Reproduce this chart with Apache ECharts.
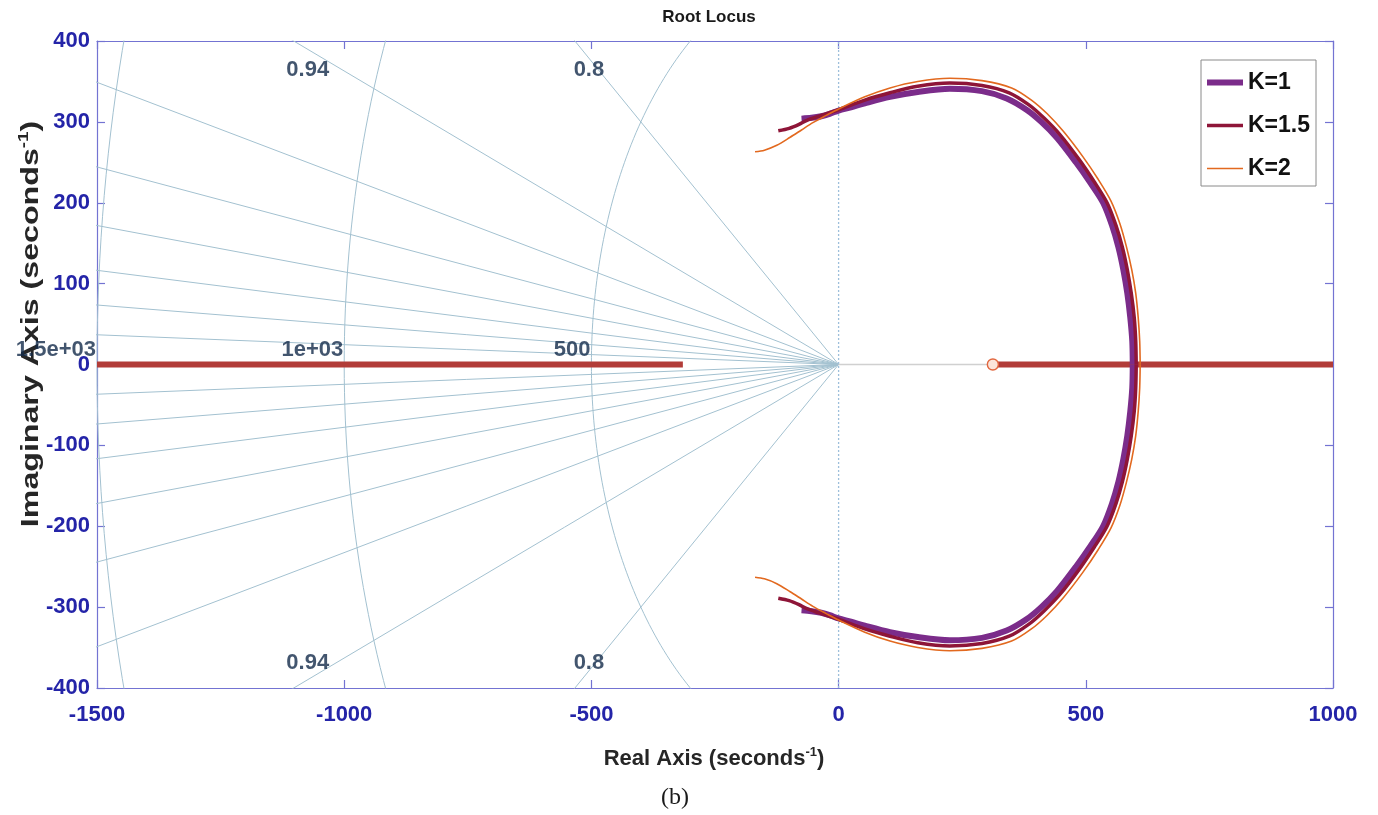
<!DOCTYPE html>
<html>
<head>
<meta charset="utf-8">
<script src="https://cdn.jsdelivr.net/npm/echarts@6/dist/echarts.min.js"></script>
<style>
  html, body { margin: 0; padding: 0; background: #ffffff; }
  #chart { width: 1378px; height: 815px; }
</style>
</head>
<body>
<div id="chart"></div>
<script>
// Axis ranges and tick labels
const realRange = [-1500, 1000];
const imagRange = [-400, 400];
const realTickStep = 500;
const imagTickStep = 100;

// s-plane grid: damping ratio rays and natural frequency arcs
const dampingRatios = [0.8, 0.94, 0.974, 0.987, 0.9935, 0.997, 0.9988, 0.9997];
const labelledDamping = [0.94, 0.8];
const naturalFreqs = [500, 1000, 1500];
const naturalFreqLabels = ['500', '1e+03', '1.5e+03'];

// Upper (positive imaginary) branches of the complex root locus, [real, imag]
const locusK1 = [
  [-75, 304], [-55, 305], [-35, 307], [-18, 310], [0, 314], [25, 318], [53, 323],
  [104, 331], [160, 337], [225, 341], [290, 338], [340, 329], [380, 315], [410, 300],
  [442, 280], [480, 250], [510, 224], [535, 200], [553, 172], [566, 145], [576, 117],
  [584, 88], [590, 58], [594, 29], [595, 0]
];
const locusK15 = [
  [-122, 289], [-100, 292], [-80, 297], [-64, 302], [-40, 307], [-20, 311], [0, 315],
  [53, 327], [104, 336], [160, 344], [225, 348], [290, 345], [345, 336], [385, 321],
  [415, 305], [448, 284], [487, 253], [517, 226], [543, 200], [561, 172], [574, 145],
  [584, 117], [592, 88], [598, 58], [601, 29], [602, 0]
];
const locusK2 = [
  [-169, 263], [-150, 265], [-125, 271], [-98, 281], [-75, 290], [-52, 299], [-25, 308],
  [0, 316], [53, 331], [104, 342], [160, 350], [225, 354], [290, 351], [350, 342],
  [390, 327], [422, 310], [455, 288], [494, 257], [525, 229], [551, 202], [569, 174],
  [582, 146], [593, 117], [601, 88], [606, 58], [609, 29], [610, 0]
];

// Real-axis portions of the locus and the open-loop zero
const realLocusLeft = [[-1500, 0], [-315, 0]];
const realLocusRight = [[316, 0], [1000, 0]];
const originToZero = [[0, 0], [312, 0]];
const zeroLocation = [[312, 0]];

const seriesNames = ['K=1', 'K=1.5', 'K=2'];
const seriesColors = ['#7B2C8A', '#8E1538', '#E2691F'];
const seriesWidths = [6, 3.5, 1.6];
const seriesData = [locusK1, locusK15, locusK2];

// complex roots come in conjugate pairs
const conjugate = pts => pts.map(p => [p[0], -p[1]]).reverse();

const gridColor = '#A3C1D0';
const frameColor = '#7373D2';
const tickColor = '#2424A8';
const gridLabelColor = '#132B4A';
const sansFont = 'Liberation Sans, Arial, sans-serif';

const series = [];

// damping-ratio rays (clipped by the plot area)
dampingRatios.forEach(z => {
  const r = 4000, s = Math.sqrt(1 - z * z);
  series.push({
    type: 'line', silent: true, symbol: 'none', z: 1,
    lineStyle: { color: gridColor, width: 1 },
    data: [[-r * z, r * s], [0, 0], [-r * z, -r * s]]
  });
});

// natural-frequency arcs in the left half plane
naturalFreqs.forEach(wn => {
  const pts = [];
  for (let a = 90; a <= 270; a += 1) {
    const t = a * Math.PI / 180;
    pts.push([wn * Math.cos(t), wn * Math.sin(t)]);
  }
  series.push({
    type: 'line', silent: true, symbol: 'none', z: 1,
    lineStyle: { color: gridColor, width: 1 },
    data: pts
  });
});

// imaginary axis
series.push({
  type: 'line', silent: true, symbol: 'none', z: 1,
  lineStyle: { color: '#9DBFDB', width: 1.3, type: [2, 2] },
  data: [[0, imagRange[0]], [0, imagRange[1]]]
});

// damping labels near the top and bottom edges
const dampLabelPts = [];
labelledDamping.forEach(z => {
  const s = Math.sqrt(1 - z * z);
  const xEdge = -imagRange[1] * z / s;
  dampLabelPts.push({ value: [xEdge, imagRange[1]], name: String(z), label: { offset: [14, 29] } });
  dampLabelPts.push({ value: [xEdge, imagRange[0]], name: String(z), label: { offset: [14, -25] } });
});
series.push({
  type: 'scatter', silent: true, symbolSize: 0, clip: false, z: 3,
  data: dampLabelPts,
  label: {
    show: true, position: 'inside', formatter: p => p.name,
    fontSize: 22, fontWeight: 'bold', color: gridLabelColor, fontFamily: sansFont
  }
});

// natural-frequency labels on the negative real axis
series.push({
  type: 'scatter', silent: true, symbolSize: 0, clip: false, z: 3,
  data: naturalFreqs.map((wn, i) => ({ value: [-wn, 0], name: naturalFreqLabels[i] })),
  label: {
    show: true, position: 'left', distance: 1, offset: [0, -15], formatter: p => p.name,
    fontSize: 22, fontWeight: 'bold', color: gridLabelColor, fontFamily: sansFont
  }
});

// thin segment from origin to the zero
series.push({
  type: 'line', silent: true, symbol: 'none', z: 2,
  lineStyle: { color: '#D0D0D0', width: 1.5 },
  data: originToZero
});

// real-axis locus
[realLocusLeft, realLocusRight].forEach(seg => {
  series.push({
    type: 'line', silent: true, symbol: 'none', z: 4,
    lineStyle: { color: '#B23C38', width: 6 },
    data: seg
  });
});

// complex branches, upper and lower
seriesNames.forEach((name, i) => {
  [seriesData[i], conjugate(seriesData[i])].forEach(pts => {
    series.push({
      name, type: 'line', symbol: 'none', z: 5 + i, smooth: 0.3,
      itemStyle: { color: seriesColors[i] },
      lineStyle: { color: seriesColors[i], width: seriesWidths[i] },
      data: pts
    });
  });
});

// open-loop zero marker
series.push({
  type: 'scatter', silent: true, symbol: 'circle', symbolSize: 11, z: 9,
  itemStyle: { color: '#FBE4DA', borderColor: '#E2673F', borderWidth: 1.4, opacity: 1 },
  data: zeroLocation
});

// legend swatches: a band of the series' line width centred in a 36x14 box
const legendIconW = 36, legendIconH = 14;
const bandIcon = w => {
  const y0 = (legendIconH - w) / 2, y1 = y0 + w;
  return 'path://M0,0L' + legendIconW + ',0L' + legendIconW + ',0Z' +
    'M0,' + y0 + 'H' + legendIconW + 'V' + y1 + 'H0Z' +
    'M0,' + legendIconH + 'L' + legendIconW + ',' + legendIconH + 'L' + legendIconW + ',' + legendIconH + 'Z';
};

const axisCommon = {
  type: 'value',
  axisLine: { show: true, onZero: false, lineStyle: { color: frameColor, width: 1.2 } },
  axisTick: { show: true, inside: true, length: 8, lineStyle: { color: frameColor, width: 1.2 } },
  splitLine: { show: false }
};
const tickLabel = {
  fontSize: 22, fontWeight: 'bold', color: tickColor, fontFamily: sansFont,
  formatter: v => String(v)
};
const richAxisTitle = (fs, sup) => ({
  b: { fontSize: fs, fontWeight: 'bold', fill: '#262626', lineHeight: fs + 4, fontFamily: sansFont },
  s: { fontSize: sup, fontWeight: 'bold', fill: '#262626', lineHeight: sup, verticalAlign: 'top', fontFamily: sansFont }
});

const option = {
  animation: false,
  backgroundColor: '#ffffff',
  grid: { left: 97, top: 41, width: 1236, height: 647, containLabel: false },
  xAxis: [
    Object.assign({}, axisCommon, {
      position: 'bottom', min: realRange[0], max: realRange[1], interval: realTickStep,
      axisLabel: Object.assign({ margin: 16 }, tickLabel)
    }),
    Object.assign({}, axisCommon, {
      position: 'top', min: realRange[0], max: realRange[1], interval: realTickStep,
      axisLabel: { show: false }
    })
  ],
  yAxis: [
    Object.assign({}, axisCommon, {
      position: 'left', min: imagRange[0], max: imagRange[1], interval: imagTickStep,
      axisLabel: Object.assign({ margin: 7 }, tickLabel)
    }),
    Object.assign({}, axisCommon, {
      position: 'right', min: imagRange[0], max: imagRange[1], interval: imagTickStep,
      axisLabel: { show: false }
    })
  ],
  legend: {
    data: seriesNames.map((name, i) => ({
      name, icon: bandIcon(seriesWidths[i]), itemStyle: { color: seriesColors[i] }
    })),
    symbolKeepAspect: false,
    orient: 'vertical',
    left: 1201, top: 60,
    backgroundColor: '#ffffff',
    borderColor: '#8A8A8A', borderWidth: 1, borderRadius: 0,
    padding: [11, 6, 6, 6],
    itemGap: 20, itemWidth: legendIconW, itemHeight: legendIconH,
    textStyle: { fontSize: 23, fontWeight: 'bold', color: '#111111', fontFamily: sansFont }
  },
  graphic: [
    {
      type: 'text', x: 709, y: 17, silent: true,
      style: { text: 'Root Locus', align: 'center', verticalAlign: 'middle', font: 'bold 17px "Liberation Sans", Arial, sans-serif', fill: '#1a1a1a' }
    },
    {
      type: 'text', x: 714, y: 759, silent: true,
      style: { text: '{b|Real Axis (seconds}{s|-1}{b|)}', align: 'center', verticalAlign: 'middle', rich: richAxisTitle(22, 13) }
    },
    {
      type: 'text', x: 31, y: 324, rotation: Math.PI / 2, scaleX: 1.34, silent: true,
      style: { text: '{b|Imaginary Axis (seconds}{s|-1}{b|)}', align: 'center', verticalAlign: 'middle', rich: richAxisTitle(24, 14) }
    },
    {
      type: 'text', x: 675, y: 798, silent: true,
      style: { text: '(b)', align: 'center', verticalAlign: 'middle', font: '24px "Liberation Serif", "Times New Roman", serif', fill: '#1a1a1a' }
    }
  ],
  series
};

const chart = echarts.init(document.getElementById('chart'), null, { renderer: 'canvas' });
chart.setOption(option);
</script>
</body>
</html>
